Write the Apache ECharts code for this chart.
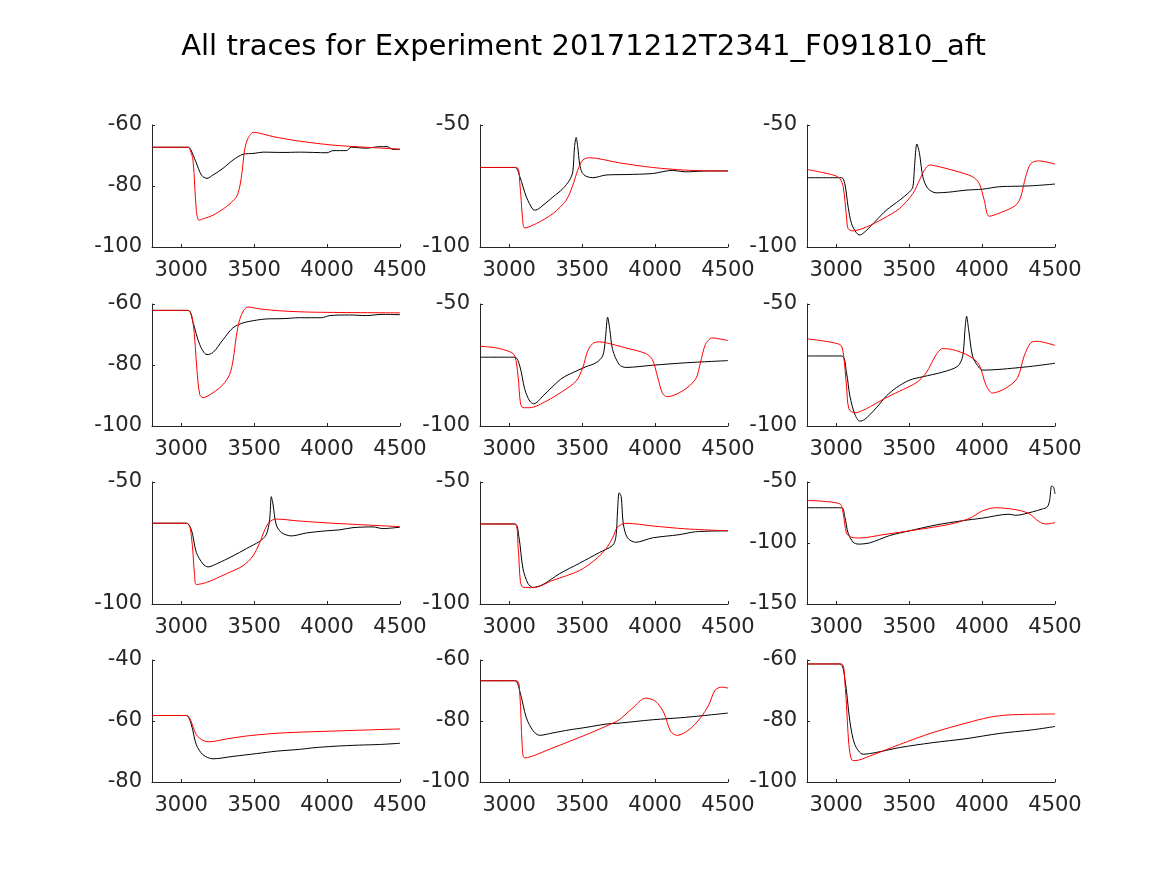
<!DOCTYPE html>
<html>
<head>
<meta charset="utf-8">
<script src="https://cdn.jsdelivr.net/npm/echarts@6/dist/echarts.min.js"></script>
<style>html,body{margin:0;padding:0;background:#fff}#c{width:1167px;height:875px}</style>
</head>
<body>
<div id="c"></div>
<script>
const titleText = 'All traces for Experiment 20171212T2341_F091810_aft';
const xTicks = [3000, 3500, 4000, 4500];
const yRanges = [[-100,-60,20],[-100,-50,50],[-100,-50,50],[-100,-60,20],[-100,-50,50],[-100,-50,50],[-100,-50,50],[-100,-50,50],[-150,-50,50],[-80,-40,20],[-100,-60,20],[-100,-60,20]];

const p1_black = [[2800,-67.3],[3050,-67.3],[3065,-68],[3100,-72],[3140,-76.5],[3177,-77.5],[3218,-76.4],[3287,-74.2],[3355,-71.5],[3424,-69.6],[3500,-69.3],[3561,-68.9],[3698,-69],[3812,-68.9],[4000,-69.1],[4041,-68.4],[4132,-68.4],[4166,-67.3],[4269,-67.6],[4361,-67.1],[4411,-67.1],[4452,-68],[4500,-68]];
const p1_red = [[2800,-67.3],[3047,-67.3],[3060,-68],[3081,-71.5],[3104,-88],[3122,-91.2],[3160,-90.6],[3218,-89.6],[3309,-86.8],[3378,-83.6],[3401,-80.3],[3419,-74.8],[3435,-68.2],[3458,-64.4],[3497,-62.4],[3629,-63.8],[3812,-65.3],[4041,-66.6],[4269,-67.3],[4500,-67.9]];
const p2_black = [[2800,-67.4],[3040,-67.4],[3073,-71.2],[3118,-79.5],[3164,-84.7],[3180,-84.9],[3232,-82.9],[3300,-79.5],[3368,-76.1],[3414,-72.6],[3436,-69.2],[3448,-58.9],[3459,-55.1],[3470,-59],[3483,-66],[3500,-69.5],[3527,-71],[3573,-71.6],[3664,-70.5],[3800,-70.3],[3982,-69.9],[4118,-68.6],[4209,-69.2],[4323,-68.9],[4500,-68.8]];
const p2_red = [[2800,-67.4],[3050,-67.4],[3073,-74],[3091,-87.7],[3107,-92.2],[3186,-90.4],[3300,-86.3],[3391,-80.8],[3436,-74.7],[3470,-68.5],[3504,-64.4],[3550,-63.4],[3754,-65.5],[3982,-67.4],[4209,-68.5],[4500,-68.9]];
const p3_black = [[2800,-71.6],[3037,-71.6],[3059,-74],[3082,-83.6],[3105,-90.4],[3139,-94.2],[3162,-95.1],[3207,-93.2],[3276,-89],[3344,-84.9],[3435,-80.8],[3503,-77.4],[3526,-75.3],[3537,-67.1],[3553,-57.8],[3571,-61.6],[3594,-71.2],[3628,-76],[3685,-77.8],[3776,-77.5],[3890,-76.7],[4003,-76.3],[4117,-75.3],[4231,-75.1],[4345,-74.9],[4500,-74.2]];
const p3_red = [[2800,-68.2],[2980,-70.5],[3025,-71.9],[3048,-75.3],[3071,-87.7],[3082,-92.5],[3116,-93.4],[3207,-91.8],[3321,-88.4],[3435,-84.2],[3526,-78.1],[3571,-72.6],[3605,-68.5],[3640,-66.4],[3685,-66.8],[3821,-68.9],[3935,-71.2],[3981,-74],[4015,-80.8],[4049,-87.4],[4140,-85.6],[4231,-82.9],[4265,-79.5],[4299,-71.2],[4334,-65.8],[4386,-64.7],[4500,-66]];
const p4_black = [[2800,-62.1],[3047,-62.1],[3081,-66],[3127,-73.3],[3177,-76.6],[3218,-75.9],[3287,-71.7],[3355,-67.8],[3424,-66.2],[3515,-65.3],[3583,-64.9],[3698,-64.8],[3812,-64.5],[3961,-64.5],[4018,-63.8],[4154,-63.6],[4269,-63.8],[4383,-63.4],[4500,-63.5]];
const p4_red = [[2800,-62.1],[3047,-62.1],[3081,-66],[3108,-81.5],[3127,-89.6],[3149,-90.7],[3218,-89.1],[3287,-86.4],[3332,-83.1],[3355,-78.7],[3378,-70.6],[3401,-65.1],[3431,-61.9],[3458,-61],[3538,-61.6],[3698,-62.3],[3926,-62.7],[4500,-62.9]];
const p5_black = [[2800,-71.8],[3039,-71.8],[3073,-75.5],[3107,-85],[3141,-89.8],[3168,-90.9],[3232,-87.7],[3300,-83.7],[3368,-80.2],[3459,-77.5],[3527,-75.7],[3595,-74.1],[3641,-71.3],[3659,-64.6],[3675,-55.4],[3690,-60.5],[3709,-68.7],[3754,-74.8],[3800,-76],[3982,-75.1],[4209,-74.1],[4500,-73.2]];
const p5_red = [[2800,-67.3],[2914,-68],[3005,-69.6],[3039,-71.3],[3061,-79.6],[3077,-90.5],[3095,-92.5],[3141,-92.5],[3255,-89.8],[3368,-85.7],[3459,-81.6],[3504,-76.2],[3538,-69.3],[3573,-66.2],[3618,-65.5],[3664,-65.9],[3800,-68],[3936,-70.3],[3982,-72.8],[4016,-79.6],[4050,-86.4],[4084,-88],[4186,-85.7],[4277,-80.9],[4311,-74.1],[4345,-66.6],[4391,-63.9],[4500,-65]];
const p6_black = [[2800,-71.3],[3037,-71.3],[3071,-78.2],[3094,-87.7],[3128,-95.2],[3162,-98],[3196,-97.3],[3276,-92.5],[3344,-87.7],[3412,-84.3],[3503,-81.2],[3594,-79.8],[3730,-77.9],[3833,-75.5],[3867,-71.4],[3883,-60.5],[3894,-55],[3908,-60.5],[3935,-71.4],[3969,-75.2],[4003,-77.1],[4117,-76.8],[4231,-76.2],[4345,-75.5],[4500,-74.3]];
const p6_red = [[2800,-64.3],[3025,-66.6],[3048,-70],[3071,-83.7],[3087,-92.9],[3128,-94.6],[3207,-92.9],[3321,-89.1],[3435,-85.7],[3548,-82.3],[3617,-78.2],[3685,-70.8],[3730,-68.3],[3799,-68.7],[3912,-71.3],[3980,-74.9],[4026,-83.1],[4071,-86.5],[4162,-84.5],[4242,-80.4],[4288,-71.4],[4334,-65.9],[4379,-65.3],[4500,-67]];
const p7_black = [[2800,-66.9],[3035,-66.9],[3070,-69.6],[3104,-78.9],[3150,-83.6],[3184,-84.8],[3241,-83.6],[3355,-80.3],[3447,-77.3],[3538,-74.3],[3583,-71.6],[3606,-65.6],[3618,-56],[3629,-59],[3652,-67.6],[3687,-70.7],[3755,-72.1],[3858,-70.9],[3995,-70],[4087,-69.6],[4178,-68.7],[4315,-68.4],[4383,-69.1],[4500,-68.5]];
const p7_red = [[2800,-66.9],[3040,-66.9],[3070,-72.3],[3092,-88.3],[3104,-92],[3172,-91.2],[3310,-87.6],[3424,-84.3],[3492,-80.3],[3538,-74.9],[3573,-69.6],[3606,-66.3],[3652,-65.2],[3812,-66],[4041,-66.9],[4500,-68.3]];
const p8_black = [[2800,-67.2],[3039,-67.2],[3066,-72.3],[3095,-85.6],[3129,-91.6],[3164,-93.2],[3232,-92],[3345,-87.6],[3482,-83.3],[3618,-78.9],[3709,-76],[3732,-72.3],[3743,-61.6],[3754,-54.4],[3768,-56],[3782,-67],[3811,-72.9],[3868,-74.7],[3982,-72.9],[4164,-71.6],[4277,-70.4],[4500,-70]];
const p8_red = [[2800,-67.2],[3039,-67.2],[3061,-76.3],[3077,-90.9],[3095,-93.1],[3164,-93.3],[3300,-90.3],[3482,-86.3],[3595,-81.6],[3664,-77.3],[3709,-72.9],[3743,-68.5],[3800,-66.9],[3982,-68],[4209,-69.2],[4500,-70]];
const p9_black = [[2800,-71.1],[3037,-71.1],[3059,-78.5],[3082,-91.9],[3116,-99.3],[3151,-100.9],[3230,-99.9],[3367,-93.9],[3503,-90],[3685,-85.2],[3867,-81.7],[4003,-79.6],[4185,-76.4],[4231,-77.3],[4345,-74.5],[4413,-72.1],[4447,-70.5],[4463,-65.2],[4477,-53.2],[4491,-54.5],[4500,-59.9]];
const p9_red = [[2800,-65.2],[3025,-67.9],[3048,-75.9],[3071,-91.9],[3105,-95.3],[3162,-95.9],[3321,-93.2],[3548,-89.2],[3776,-84.7],[3912,-79.9],[4003,-73.7],[4094,-71.1],[4231,-72.7],[4322,-75.9],[4391,-82.5],[4436,-84.4],[4500,-83.3]];
const p10_black = [[2800,-58.2],[3035,-58.2],[3070,-61.3],[3104,-67.8],[3150,-71.1],[3218,-72.4],[3355,-71.6],[3515,-70.7],[3652,-69.9],[3812,-69.3],[3903,-68.8],[4041,-68.3],[4223,-67.9],[4361,-67.7],[4500,-67.3]];
const p10_red = [[2800,-58.2],[3035,-58.2],[3058,-59],[3104,-64.5],[3150,-66.4],[3195,-66.8],[3309,-65.9],[3469,-64.8],[3698,-63.9],[4041,-63.3],[4500,-62.6]];
const p11_black = [[2800,-66.8],[3039,-66.8],[3073,-70.3],[3118,-79],[3164,-83.2],[3209,-84.7],[3300,-83.9],[3414,-82.9],[3527,-82.1],[3664,-81],[3754,-80.7],[3982,-79.6],[4209,-78.8],[4500,-77.4]];
const p11_red = [[2800,-66.8],[3050,-66.8],[3073,-71.4],[3089,-87.7],[3107,-92.1],[3300,-88.8],[3527,-84.5],[3664,-81.7],[3754,-79.6],[3845,-75.8],[3936,-72.5],[4005,-73.6],[4061,-77.4],[4107,-83.4],[4152,-84.7],[4232,-82.9],[4311,-79],[4368,-74.7],[4413,-69.8],[4459,-68.9],[4500,-69.2]];
const p12_black = [[2800,-61.3],[3025,-61.3],[3059,-66],[3094,-80.1],[3128,-87.7],[3185,-90.9],[3276,-90.3],[3435,-88.7],[3662,-87.1],[3890,-85.8],[4117,-84.1],[4345,-82.9],[4500,-81.8]];
const p12_red = [[2800,-61.3],[3035,-61.3],[3059,-67],[3087,-87.7],[3105,-92.6],[3128,-93],[3230,-91.5],[3435,-87.7],[3662,-83.8],[3890,-80.7],[4049,-78.8],[4185,-78],[4500,-77.7]];

const blacks = [p1_black,p2_black,p3_black,p4_black,p5_black,p6_black,p7_black,p8_black,p9_black,p10_black,p11_black,p12_black];
const reds = [p1_red,p2_red,p3_red,p4_red,p5_red,p6_red,p7_red,p8_red,p9_red,p10_red,p11_red,p12_red];

const lefts = [152, 480, 807];
const tops = [125, 304, 482, 660];
const W = 248, H = 122;
const txt = '#262626';
const font = 'DejaVu Sans';
const grids = [], xAxes = [], yAxes = [], series = [];
for (let i = 0; i < 12; i++) {
  const r = Math.floor(i / 3), c = i % 3;
  grids.push({left: lefts[c], top: tops[r], width: W, height: H, containLabel: false});
  xAxes.push({
    type: 'value', gridIndex: i, min: 2800, max: 4500,
    axisLine: {show: true, lineStyle: {color: txt, width: 1}},
    axisTick: {show: true, inside: true, length: 3, customValues: xTicks, lineStyle: {color: txt}},
    axisLabel: {customValues: xTicks, color: txt, fontFamily: font, fontSize: 21, margin: 13, formatter: v => String(v)},
    splitLine: {show: false}
  });
  const yr = yRanges[i];
  yAxes.push({
    type: 'value', gridIndex: i, min: yr[0], max: yr[1], interval: yr[2],
    axisLine: {show: true, lineStyle: {color: txt, width: 1}},
    axisTick: {show: true, inside: true, length: 3, lineStyle: {color: txt}},
    axisLabel: {color: txt, fontFamily: font, fontSize: 21, margin: 10, formatter: v => String(v)},
    splitLine: {show: false}
  });
  series.push({type: 'line', xAxisIndex: i, yAxisIndex: i, data: blacks[i], showSymbol: false, smooth: 0.3, lineStyle: {color: '#000', width: 1}, itemStyle: {color: '#000'}, silent: true, animation: false});
  series.push({type: 'line', xAxisIndex: i, yAxisIndex: i, data: reds[i], showSymbol: false, smooth: 0.3, lineStyle: {color: '#ff0000', width: 1}, itemStyle: {color: '#ff0000'}, silent: true, animation: false});
}
const chart = echarts.init(document.getElementById('c'), null, {renderer: 'canvas'});
chart.setOption({
  backgroundColor: '#fff',
  animation: false,
  title: {text: titleText, left: 'center', top: 28, textStyle: {color: '#000', fontFamily: font, fontSize: 29, fontWeight: 'normal'}},
  grid: grids, xAxis: xAxes, yAxis: yAxes, series: series
});
</script>
</body>
</html>
